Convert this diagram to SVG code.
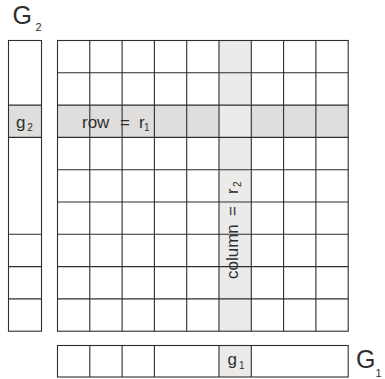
<svg xmlns="http://www.w3.org/2000/svg" width="385" height="379" viewBox="0 0 385 379">
<style>
.ln{stroke:#2e2e2e;stroke-width:1.1;fill:none}
.rowf{fill:#dfdedd}
.colf{fill:#ecebea}
text{font-family:"Liberation Sans",Arial,sans-serif;fill:#2e2e2e}
.big{font-size:25px}
.lab{font-size:17px}
.sub{font-size:10px}
.bsub{font-size:11px}
</style>
<rect width="385" height="379" fill="#fff"/>
<g id="G2-label">
<text class="big" x="12.5" y="24">G</text>
<text class="bsub" x="35.5" y="30.7">2</text>
</g>
<g id="G2-vector">
<rect class="rowf" x="8.5" y="105.1" width="33" height="32.3"/>
<rect class="ln" x="8.5" y="40.5" width="33" height="290.7"/>
<path class="ln" d="M8.5 105.1H41.5M8.5 137.4H41.5M8.5 234.3H41.5M8.5 266.6H41.5M8.5 298.9H41.5"/>
<text class="lab" x="16" y="127.5">g</text>
<text class="sub" x="27.3" y="131">2</text>
</g>
<g id="matrix">
<rect class="rowf" x="57.5" y="105.1" width="290.7" height="32.3"/>
<rect class="colf" x="219" y="40.5" width="32.3" height="290.7"/>
<rect class="ln" x="57.5" y="40.5" width="290.7" height="290.7"/>
<path class="ln" d="M89.8 40.5V331.2M122.1 40.5V331.2M154.4 40.5V331.2M186.7 40.5V331.2M219 40.5V331.2M251.3 40.5V331.2M283.6 40.5V331.2M315.9 40.5V331.2M57.5 72.8H348.2M57.5 105.1H348.2M57.5 137.4H348.2M57.5 169.7H348.2M57.5 202H348.2M57.5 234.3H348.2M57.5 266.6H348.2M57.5 298.9H348.2"/>
<g id="row-label">
<text class="lab" x="82" y="127.5">row</text>
<text class="lab" x="120" y="127.5">=</text>
<text class="lab" x="139" y="127.5">r</text>
<text class="sub" x="144" y="131">1</text>
</g>
<g id="column-label" transform="translate(237.5,279) rotate(-90)">
<text class="lab" x="0" y="0">column</text>
<text class="lab" x="63" y="0">=</text>
<text class="lab" x="85" y="0">r</text>
<text class="sub" x="92" y="3.5">2</text>
</g>
</g>
<g id="G1-vector">
<rect class="colf" x="219" y="345.5" width="32.3" height="31.5"/>
<rect class="ln" x="57.5" y="345.5" width="290.7" height="31.5"/>
<path class="ln" d="M89.8 345.5V377M122.1 345.5V377M154.4 345.5V377M219 345.5V377M251.3 345.5V377"/>
<text class="lab" x="227.5" y="365">g</text>
<text class="sub" x="239" y="368.5">1</text>
</g>
<g id="G1-label">
<text class="big" x="356" y="368.3">G</text>
<text class="bsub" x="375.5" y="376.5">1</text>
</g>
</svg>
